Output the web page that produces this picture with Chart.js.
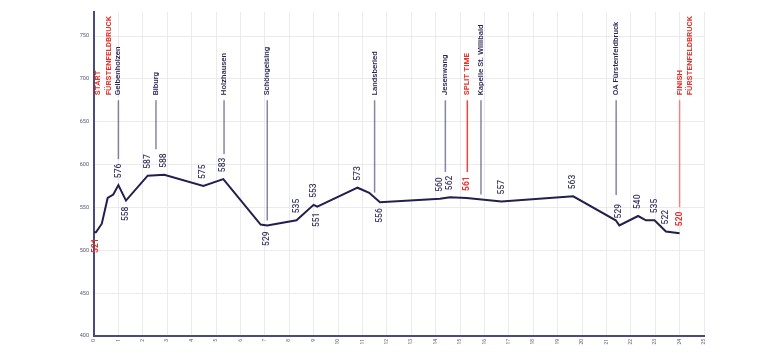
<!DOCTYPE html>
<html><head><meta charset="utf-8">
<script src="https://cdn.jsdelivr.net/npm/chart.js@4/dist/chart.umd.min.js"></script>
<style>html,body{margin:0;padding:0;background:#fff}#wrap{width:766px;height:352px}</style>
</head><body><div id="wrap"><canvas id="c" width="766" height="352"></canvas></div>
<script>
// Elevation profile (km, metres)
const distanceKm = [0.00,0.08,0.32,0.56,0.79,1.00,1.31,2.20,2.88,4.48,5.30,6.83,7.10,8.30,9.00,9.15,10.80,11.28,11.72,14.18,14.59,15.27,16.70,19.64,21.38,21.53,22.30,22.62,22.97,23.44,24.00];
const elevationM = [521,521,531,561,565,576,558,587,588,575,583,530,529,535,553,551,573,567,556,560,562,561,557,563,535,529,540,535,535,522,520];

// Elevation value labels: which profile points are labelled, and on which side
const valueLabelIndex = [1,5,6,7,8,9,10,12,13,14,15,16,18,19,20,21,22,23,25,26,28,29,30];
const valueLabelSide  = ['below','above','below','above','above','above','above','below','above','above','below','above','below','above','above','above','above','above','above','above','above','above','above'];
const valueLabelRed   = [1,21,30];

// Waypoints
const waypointNames = ['START\nFÜRSTENFELDBRUCK','Gelbenholzen','Biburg','Holzhausen','Schöngeising','Landsberied','Jesenwang','SPLIT TIME','Kapelle St. Willibald','OA Fürstenfeldbruck','FINISH\nFÜRSTENFELDBRUCK'];
const waypointKm    = [0,1.0,2.54,5.33,7.1,11.5,14.4,15.3,15.86,21.4,24.0];
const waypointKind  = ['start','town','town','town','town','town','town','split','town','town','finish'];

// Axis ticks
const xMin = 0, xMax = 25, xStep = 1;
const yMin = 400, yMax = 778, yStep = 50;

const NAVY = '#25224f';
const RED = '#e8322b';
const FONT = 'Roboto, "DejaVu Sans", sans-serif';

function elevAt(km){
  for(let i=0;i<distanceKm.length-1;i++){
    if(km>=distanceKm[i] && km<=distanceKm[i+1]){
      const t=(km-distanceKm[i])/(distanceKm[i+1]-distanceKm[i]);
      return elevationM[i]+t*(elevationM[i+1]-elevationM[i]);
    }
  }
  return elevationM[elevationM.length-1];
}

const annotPlugin = {
  id:'annot',
  afterDatasetsDraw(chart){
    const ctx = chart.ctx, xs = chart.scales.x, ys = chart.scales.y;
    ctx.save();
    // waypoint markers
    waypointNames.forEach((name,i)=>{
      const km = waypointKm[i], kind = waypointKind[i];
      const px = xs.getPixelForValue(km);
      const py = ys.getPixelForValue(elevAt(km));
      const lineTop = ys.getPixelForValue(675);
      let near = null, best = 0.45;
      valueLabelIndex.forEach((idx,j)=>{
        const d = Math.abs(distanceKm[idx]-km);
        if(d<best){best=d;near=valueLabelSide[j];}
      });
      const lineBottom = near==='above' ? py-26 : py-5;
      if(kind!=='start'){
        ctx.beginPath();
        ctx.strokeStyle = kind==='split' ? 'rgba(232,50,43,0.9)' : kind==='finish' ? 'rgba(232,50,43,0.55)' : 'rgba(70,68,115,0.65)';
        ctx.lineWidth = 1.5;
        ctx.moveTo(px,lineTop); ctx.lineTo(px,lineBottom); ctx.stroke();
      }
      const lines = name.split('\n');
      const red = kind!=='town';
      ctx.fillStyle = red ? RED : NAVY;
      ctx.font = (red ? 'bold 8px ' : '500 8px ') + FONT;
      const textY = lineTop - 5;
      const baseX = kind==='start' ? px+4 : px;
      lines.forEach((ln,k)=>{
        ctx.save();
        ctx.translate(baseX + k*10.5, textY);
        ctx.rotate(-Math.PI/2);
        ctx.textAlign='left'; ctx.textBaseline='middle';
        ctx.fillText(ln,0,0);
        ctx.restore();
      });
    });
    // value labels
    valueLabelIndex.forEach((idx,j)=>{
      const px = xs.getPixelForValue(distanceKm[idx]);
      const py = ys.getPixelForValue(elevationM[idx]);
      const red = valueLabelRed.includes(idx);
      ctx.fillStyle = red ? RED : '#3a3960';
      ctx.font = (red ? 'bold 8.5px ' : '500 8.5px ') + FONT;
      ctx.save();
      if(valueLabelSide[j]==='above'){
        ctx.translate(px, py-7); ctx.rotate(-Math.PI/2); ctx.textAlign='left';
      } else {
        ctx.translate(px, py+6); ctx.rotate(-Math.PI/2); ctx.textAlign='right';
      }
      ctx.textBaseline='middle';
      ctx.fillText(String(elevationM[idx]),0,0);
      ctx.restore();
    });
    ctx.restore();
  }
};

new Chart(document.getElementById('c'), {
  type:'line',
  data:{datasets:[{
    data: distanceKm.map((x,i)=>({x, y:elevationM[i]})),
    borderColor:'#221f4f', borderWidth:2, pointRadius:0, tension:0, fill:false
  }]},
  options:{
    responsive:false, animation:false, devicePixelRatio:1,
    layout:{padding:{top:12,right:62,left:0,bottom:0}},
    plugins:{legend:{display:false},tooltip:{enabled:false}},
    scales:{
      x:{type:'linear', min:xMin, max:xMax,
        afterFit(s){s.height=16;},
        border:{color:'#4b4a7c',width:2},
        grid:{color:'#ebebef',lineWidth:1,drawTicks:false},
        ticks:{stepSize:xStep, autoSkip:false, minRotation:90, maxRotation:90, padding:3, color:'#55557a', font:{size:5,family:FONT}}
      },
      y:{type:'linear', min:yMin, max:yMax,
        afterFit(s){s.width=94;},
        afterBuildTicks(s){s.ticks=s.ticks.filter(t=>t.value%yStep===0);},
        border:{color:'#4b4a7c',width:2},
        grid:{color:'#ebebef',lineWidth:1,drawTicks:false},
        ticks:{stepSize:yStep, padding:5, color:'#55557a', font:{size:5.5,family:FONT}}
      }
    }
  },
  plugins:[annotPlugin]
});
</script>
</body></html>
